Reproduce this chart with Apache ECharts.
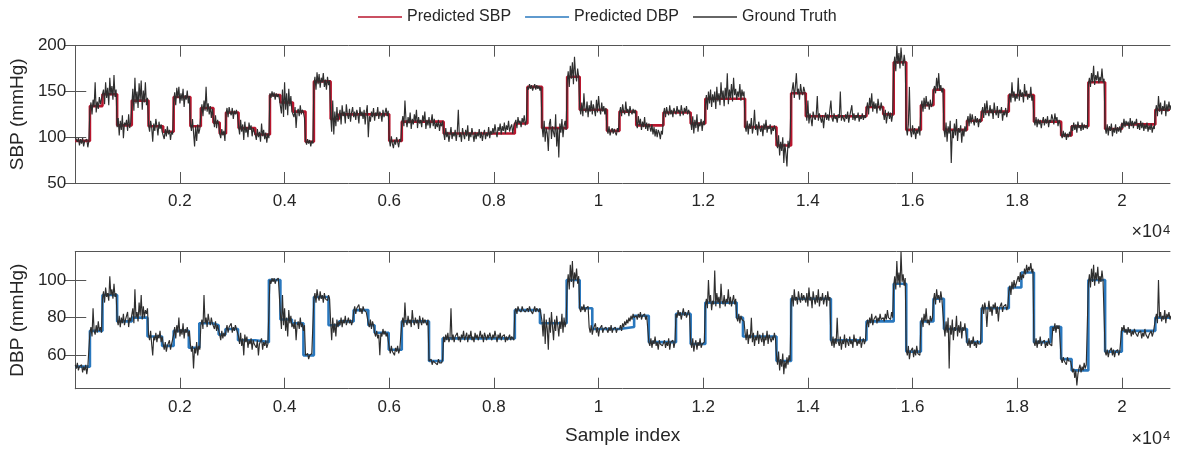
<!DOCTYPE html>
<html><head><meta charset="utf-8">
<script src="https://cdn.jsdelivr.net/npm/echarts@6/dist/echarts.min.js"></script>
<style>html,body{margin:0;padding:0;background:#fff}#c{width:1178px;height:455px}</style>
</head><body><div id="c"></div>
<script>
// ---- data ----
const STEP = 20;            // samples between consecutive ground-truth points
const X_MIN = 0;
const X_MAX = 20920;
const xTickValues = [2000,4000,6000,8000,10000,12000,14000,16000,18000,20000];
const sbpTicks = [50,100,150,200];
const dbpTicks = [60,80,100];

const gtSBP = [
100,100,95,99,91,98,93,99,90,96,94,98,89,96,
130,138,125,141,133,160,127,139,131,144,136,142,
140,152,136,160,143,154,135,165,146,156,141,168,144,152,
111,121,102,118,108,124,99,116,113,119,107,125,110,116,
134,153,129,165,137,150,132,159,140,162,130,151,138,160,135,143,
114,106,118,111,95,115,107,120,112,102,117,109,114,106,
104,98,109,101,112,103,108,97,106,103,
138,149,135,154,143,155,137,148,140,153,133,146,141,151,137,145,
115,107,120,105,90,112,96,114,104,109,
126,136,123,140,129,155,128,137,125,134,121,131,
121,111,124,110,119,114,
104,99,109,102,107,96,
125,132,122,133,127,124,132,120,129,125,130,124,
113,103,119,106,114,97,117,105,111,100,116,108,113,101,110,106,
103,97,109,100,106,95,115,101,108,98,105,94,104,99,
148,143,150,144,149,141,148,144,147,142,
141,126,152,122,160,130,148,124,153,134,145,128,
130,122,133,110,127,131,123,135,125,130,127,121,
97,92,98,93,97,90,96,93,
157,166,152,171,158,169,154,165,160,170,155,163,152,166,157,162,
124,106,140,103,128,112,133,117,
119,130,114,135,123,128,115,136,125,120,131,117,127,133,122,128,119,130,125,115,133,123,128,120,130,114,127,135,100,123,117,128,122,132,118,127,123,133,120,128,125,117,130,122,127,132,123,129,
98,90,101,93,88,97,92,100,95,89,98,95,
115,123,112,140,119,111,122,115,127,109,120,114,125,117,130,110,122,115,119,111,124,117,128,109,119,113,122,110,117,125,112,120,109,116,111,119,107,116,112,118,
105,97,110,100,106,95,103,111,98,105,101,108,96,106,130,100,105,95,110,103,98,108,101,113,96,105,100,110,103,95,106,98,105,101,
109,99,106,96,104,108,98,105,101,111,99,107,103,110,104,114,106,100,111,107,115,103,112,107,116,104,113,108,118,106,111,114,104,112,
113,119,110,122,115,118,111,121,116,124,113,118,
155,152,158,153,157,151,155,158,152,157,153,156,151,155,
112,100,118,95,110,104,85,115,120,98,112,105,100,125,90,110,78,115,105,120,100,112,118,108,
160,172,155,178,164,182,158,188,169,161,175,166,
133,125,138,123,148,130,127,139,122,135,128,140,125,136,130,123,141,127,145,131,125,138,128,134,125,132,
109,104,112,102,107,110,104,109,105,102,110,106,
126,133,123,136,128,125,139,127,131,123,134,128,125,131,126,130,
119,110,123,113,120,108,117,111,122,109,116,107,115,111,106,114,103,111,101,109,100,108,105,98,107,103,
125,132,122,133,127,124,135,125,130,122,132,128,125,134,127,130,123,135,128,124,132,127,134,125,130,127,
117,108,123,104,119,110,125,106,116,112,120,107,118,113,
134,146,130,150,137,152,133,147,138,150,131,155,139,148,135,160,141,151,134,154,142,170,136,152,143,158,139,165,146,153,141,150,144,158,140,152,145,150,
113,106,118,103,115,109,121,104,112,130,108,114,102,117,110,106,113,101,115,108,119,105,112,109,114,103,111,107,113,108,
98,88,102,80,95,85,100,72,93,82,68,96,88,100,
145,152,160,143,155,170,147,153,141,158,149,146,155,150,
130,118,140,115,126,120,112,128,122,119,125,145,118,126,121,116,124,110,122,127,119,125,118,130,140,121,117,126,120,123,116,125,121,150,118,124,122,117,125,120,128,116,123,121,135,119,126,118,124,121,127,117,123,120,126,119,124,121,
130,138,125,143,133,148,128,139,131,137,126,142,133,129,138,131,
127,119,130,115,124,128,120,127,117,125,
178,188,172,200,180,192,175,198,183,178,190,181,
111,102,114,155,107,100,113,103,110,98,108,104,112,102,
133,140,128,143,131,145,134,139,130,141,133,137,
150,156,148,165,152,170,151,157,149,154,
109,100,116,95,112,104,118,72,108,99,115,102,120,96,110,105,113,94,109,101,112,106,
117,123,112,126,115,125,118,113,123,116,121,111,120,116,
126,133,121,137,124,140,128,123,135,126,131,120,138,128,124,134,121,130,126,133,118,128,124,132,122,129,
141,148,138,160,143,150,139,147,142,165,140,152,144,149,138,158,145,151,141,147,143,155,140,146,
119,113,122,111,120,114,119,110,117,122,113,120,115,123,111,119,116,125,120,114,126,118,122,112,119,114,
104,99,107,100,105,97,104,100,106,101,
113,107,116,108,114,105,117,110,113,107,116,108,114,110,113,109,
158,165,155,170,160,178,157,168,162,172,159,166,161,175,160,164,
111,104,114,102,112,107,115,101,110,105,114,104,111,106,112,105,
116,110,120,111,118,113,117,109,121,112,118,110,117,114,120,109,115,108,118,110,116,107,114,109,116,106,113,108,115,105,112,109,
127,135,123,145,128,138,125,134,129,140,123,136,128,139,130,135
];

const gtDBP = [
55,53,56,52,54,53,55,51,54,52,55,50,54,53,
72,75,70,85,73,71,76,72,78,73,75,72,
90,94,88,96,91,93,89,102,92,95,90,98,91,93,
79,76,81,75,80,77,82,76,79,78,83,75,80,78,
79,85,77,95,80,83,78,88,81,92,79,86,80,84,82,85,
71,68,73,66,60,70,68,72,67,71,69,73,67,70,
66,63,67,62,65,64,68,63,66,65,
71,75,69,76,72,80,70,74,71,77,69,74,72,75,70,73,
66,62,65,53,64,61,67,60,65,63,
76,79,74,92,77,80,75,82,78,76,80,77,
77,74,78,73,76,75,
71,68,73,69,72,70,
73,76,72,75,74,77,72,75,73,76,74,75,
70,66,72,65,69,60,71,67,70,64,68,66,69,63,68,66,
67,64,68,60,66,65,69,63,67,65,68,64,66,67,
100,98,101,99,101,98,100,99,101,100,
82,74,92,76,85,73,80,70,84,77,81,75,
77,74,79,68,76,78,74,80,75,77,73,76,
60,59,61,58,60,59,61,60,
90,93,88,95,91,89,94,90,92,88,93,90,91,89,92,90,
78,68,80,72,77,70,79,75,
78,76,80,75,79,77,81,76,78,80,77,79,76,78,
83,86,82,85,84,87,83,85,82,86,84,85,83,84,
77,75,79,74,78,76,
72,70,73,69,71,60,72,70,74,71,73,70,72,71,
64,61,65,62,63,60,64,62,65,61,63,62,
77,80,75,88,78,76,81,77,79,75,84,78,76,80,77,79,74,81,78,76,80,77,79,78,76,79,
57,56,58,55,57,58,56,57,55,58,56,57,56,58,
70,67,71,68,72,67,69,85,68,71,67,70,69,72,68,70,67,71,69,73,68,70,72,67,71,69,73,68,70,67,72,69,71,68,
70,73,69,71,67,72,70,68,71,69,72,70,68,71,69,73,70,67,71,69,72,68,70,69,71,67,70,68,69,71,68,70,69,68,
83,85,82,86,84,85,83,86,84,85,83,84,
85,83,86,84,85,82,84,86,83,85,84,83,85,84,
78,70,82,66,79,74,63,80,72,83,75,68,79,73,81,76,70,78,74,82,72,80,75,78,
97,103,95,108,99,110,96,104,100,106,98,102,
85,83,86,84,87,83,85,84,86,
75,72,76,71,74,73,77,72,75,70,74,73,76,72,74,73,75,
74,72,75,73,76,72,74,73,75,72,74,73,
74,76,73,77,75,78,76,79,77,80,78,81,79,82,80,81,
81,79,82,80,83,79,81,80,82,79,81,80,
67,65,69,64,68,66,70,65,67,63,68,66,67,65,
66,68,64,67,65,69,63,67,66,68,64,67,
82,80,84,81,83,79,82,85,81,83,80,82,84,81,
67,64,69,62,66,68,63,67,65,69,64,66,65,67,
86,90,85,100,88,92,84,89,87,105,86,93,88,91,85,98,89,87,92,86,90,88,95,87,91,86,89,92,87,90,
80,78,82,77,81,79,80,78,
72,68,74,66,71,69,80,67,72,65,70,68,73,66,71,69,67,72,65,70,68,73,66,71,69,67,70,68,72,69,
60,55,62,52,58,54,61,50,57,53,59,55,60,57,
88,92,86,95,89,91,87,94,90,88,93,89,92,90,
88,93,86,96,89,91,85,94,90,87,92,88,95,86,91,89,93,87,90,92,86,94,89,91,
68,65,70,64,69,66,80,67,65,70,63,68,66,71,64,69,67,65,70,66,68,64,71,67,69,65,68,66,70,64,67,69,66,68,
76,79,75,80,77,82,76,79,78,81,77,80,78,82,79,80,
80,78,82,79,84,80,81,79,83,80,
97,102,95,110,98,104,96,115,99,103,97,101,
63,60,65,58,62,61,64,59,63,60,65,61,62,60,
77,80,75,82,78,85,77,79,76,81,78,80,
89,93,87,95,90,92,88,94,90,91,
75,70,78,72,80,53,76,71,79,68,75,73,81,70,76,72,78,69,75,73,77,72,
67,65,69,64,68,66,70,65,67,64,68,66,67,66,
84,87,82,88,85,75,84,89,83,86,81,87,85,88,82,86,78,85,84,88,83,86,85,87,84,86,
94,97,92,99,95,100,96,98,97,102,99,104,100,103,101,106,103,108,104,107,105,109,104,106,
67,65,69,64,68,66,70,65,67,66,68,64,67,65,69,66,67,65,
75,73,77,72,76,74,76,75,
58,56,59,57,58,55,59,57,58,57,
54,51,53,48,52,44,50,53,55,51,54,52,56,53,55,54,
98,103,96,106,99,108,97,104,100,107,98,102,99,105,100,101,
62,60,63,59,62,61,64,60,63,59,62,61,63,60,62,61,
75,73,76,72,74,71,75,72,74,70,73,71,74,72,73,70,72,71,73,69,72,70,74,71,72,69,71,70,73,70,72,71,
79,82,77,100,80,83,78,81,79,84,77,82,80,83,79,81
];

// predicted values: piecewise levels, each holding from its start sample
const predSbpX = [0,280,520,800,1080,1400,1680,1880,2200,2400,2640,2760,2880,3120,3440,3720,3920,4160,4400,4560,4880,5040,6000,6240,7040,8400,8640,8920,9400,9640,10160,10400,10720,11240,11760,12040,12800,13400,13680,13960,15120,15440,15640,15880,16160,16400,16600,17040,17320,17840,18320,18840,19040,19360,19680,20000,20640,20920];
const predSbpY = [96,134,147,113,140,112,106,144,112,132,116,104,127,110,103,146,138,128,95,161,120,125,96,117,104,115,155,110,166,130,107,128,113,127,115,142,111,91,148,123,133,125,182,108,135,152,108,118,128,146,117,102,112,160,109,114,130,130];

const predDbpX = [0,280,520,800,1080,1380,1660,1880,2170,2370,2620,2740,2870,3110,3440,3700,3920,4140,4360,4560,4840,5040,5320,5600,5720,5990,6240,6760,7020,8400,8880,9390,9640,9880,10400,10680,10960,11480,11760,12040,12640,12760,13400,13680,14440,15120,15640,15880,16160,16400,16600,17040,17320,17840,18080,18320,18640,18840,19040,19360,19680,20000,20640,20920];
const predDbpY = [54,73,92,78,80,70,65,73,64,77,76,71,74,68,67,100,79,77,60,91,76,78,84,76,72,63,78,57,69,84,77,100,85,74,75,81,67,82,66,88,80,70,57,90,68,78,98,62,78,90,74,67,85,96,104,67,75,58,52,100,62,73,80,80];

// ---- chart ----
const FONT = '"Liberation Sans", Arial, Helvetica, sans-serif';
const AX = '#555555';
const TXT = '#262626';
const toPairs = (arr) => arr.map((v, i) => [i * STEP, v]);
const zip = (xs, ys) => xs.map((x, i) => [x, ys[i]]);

const grids = [
  {left: 73, top: 45.7, width: 1097, height: 137.3},
  {left: 73, top: 251.7, width: 1097, height: 137}
];

function xAxes(gi, withName) {
  const base = {
    gridIndex: gi, type: 'value', min: X_MIN, max: X_MAX,
    axisLine: {show: true, lineStyle: {color: AX, width: 1}},
    splitLine: {show: false},
    axisTick: {show: true, inside: true, length: 11, customValues: xTickValues, lineStyle: {color: AX}},
  };
  return [
    Object.assign({}, base, {
      position: 'bottom',
      axisLabel: {show: true, customValues: xTickValues, color: TXT, fontSize: 17, fontFamily: FONT, margin: 10,
        formatter: v => String(Math.round(v / 1000) / 10)},
      name: withName ? 'Sample index' : '', nameLocation: 'middle', nameGap: 38,
      nameTextStyle: {color: TXT, fontSize: 19, fontFamily: FONT}
    }),
    Object.assign({}, base, {position: 'top', axisLabel: {show: false}})
  ];
}
function yAxes(gi, min, max, ticks, name) {
  const base = {
    gridIndex: gi, type: 'value', min: min, max: max,
    axisLine: {show: true, lineStyle: {color: AX, width: 1}},
    splitLine: {show: false},
    axisTick: {show: true, inside: true, length: 11, customValues: ticks, lineStyle: {color: AX}},
  };
  return [
    Object.assign({}, base, {
      position: 'left',
      axisLabel: {show: true, customValues: ticks, color: TXT, fontSize: 17, fontFamily: FONT, margin: 9},
      name: name, nameLocation: 'middle', nameGap: 40, nameRotate: 90,
      nameTextStyle: {color: TXT, fontSize: 19, fontFamily: FONT}
    }),
    Object.assign({}, base, {position: 'right', axisLabel: {show: false}})
  ];
}

const option = {
  animation: false,
  backgroundColor: '#fff',
  grid: grids,
  legend: {
    data: ['Predicted SBP', 'Predicted DBP', 'Ground Truth'],
    left: 353, top: 4, icon: 'rect', itemWidth: 44, itemHeight: 1.6, itemGap: 14,
    textStyle: {color: TXT, fontSize: 16, fontFamily: FONT}
  },
  xAxis: [...xAxes(0, false), ...xAxes(1, true)],
  yAxis: [...yAxes(0, 50, 200, sbpTicks, 'SBP (mmHg)'), ...yAxes(1, 42.3, 115, dbpTicks, 'DBP (mmHg)')],
  series: [
    {name: 'Predicted SBP', type: 'line', xAxisIndex: 0, yAxisIndex: 0, step: 'end', symbol: 'none',
     data: zip(predSbpX, predSbpY), lineStyle: {color: '#B8162E', width: 2.6}, itemStyle: {color: '#B8162E'}, z: 2},
    {name: 'Ground Truth', type: 'line', xAxisIndex: 0, yAxisIndex: 0, symbol: 'none',
     data: toPairs(gtSBP), lineStyle: {color: '#2e2e2e', width: 1.15}, itemStyle: {color: '#333333'}, z: 3},
    {name: 'Predicted DBP', type: 'line', xAxisIndex: 2, yAxisIndex: 2, step: 'end', symbol: 'none',
     data: zip(predDbpX, predDbpY), lineStyle: {color: '#2A78BE', width: 2.6}, itemStyle: {color: '#2A78BE'}, z: 2},
    {name: 'Ground Truth', type: 'line', xAxisIndex: 2, yAxisIndex: 2, symbol: 'none',
     data: toPairs(gtDBP), lineStyle: {color: '#2e2e2e', width: 1.15}, itemStyle: {color: '#333333'}, z: 3}
  ],
  graphic: [
    {type: 'text', x: 1162, y: 241, style: {text: '×10', align: 'right', verticalAlign: 'bottom', fill: TXT, font: '18px ' + FONT}},
    {type: 'text', x: 1163, y: 224, style: {text: '4', align: 'left', verticalAlign: 'top', fill: TXT, font: '13px ' + FONT}},
    {type: 'text', x: 1162, y: 448, style: {text: '×10', align: 'right', verticalAlign: 'bottom', fill: TXT, font: '18px ' + FONT}},
    {type: 'text', x: 1163, y: 430, style: {text: '4', align: 'left', verticalAlign: 'top', fill: TXT, font: '13px ' + FONT}}
  ]
};
const chart = echarts.init(document.getElementById('c'), null, {renderer: 'canvas'});
chart.setOption(option);
</script></body></html>
